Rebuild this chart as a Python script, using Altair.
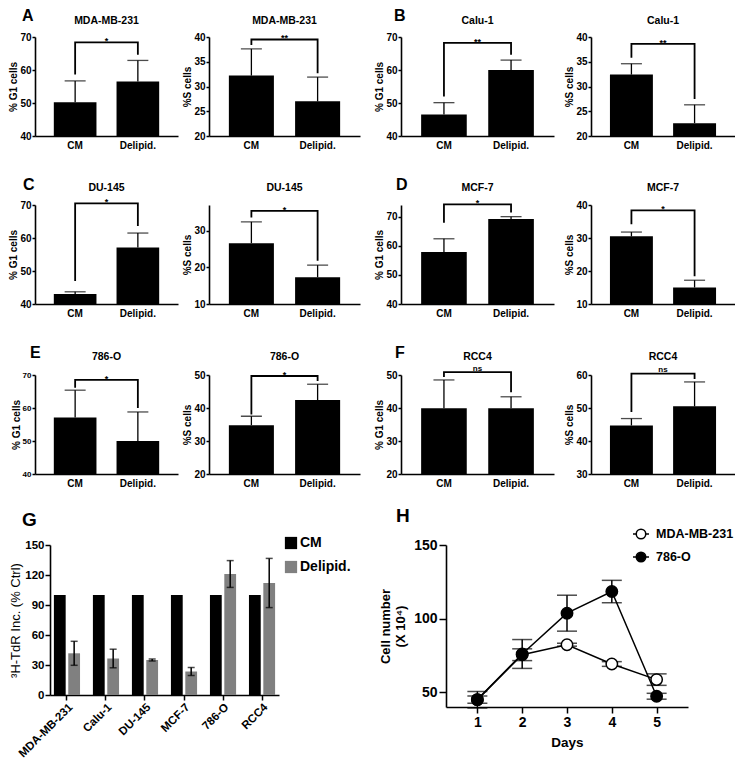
import altair as alt
import pandas as pd

FONT = "Liberation Sans"
GROUPS = ["CM", "Delipid."]

# ---------------- panels A-F (12 small bar charts) ----------------
cell_titles = ["MDA-MB-231", "MDA-MB-231", "Calu-1", "Calu-1", "DU-145", "DU-145",
               "MCF-7", "MCF-7", "786-O", "786-O", "RCC4", "RCC4"]
y_titles = ["% G1 cells", "%S cells"] * 6
y_domains = [[40, 70], [20, 40], [40, 70], [20, 40], [40, 70], [10, 37],
             [40, 74], [10, 40], [40, 70], [20, 50], [20, 50], [30, 60]]
y_ticks = [[40, 50, 60, 70], [20, 25, 30, 35, 40], [40, 50, 60, 70], [20, 25, 30, 35, 40],
           [40, 50, 60, 70], [10, 20, 30], [40, 50, 60, 70], [10, 20, 30, 40],
           [40, 50, 60, 70], [20, 30, 40, 50], [20, 30, 40, 50], [30, 40, 50, 60]]
cm_means = [50.2, 32.2, 46.5, 32.4, 43.0, 26.6, 57.9, 30.5, 57.1, 34.8, 39.9, 44.7]
cm_err = [6.5, 5.4, 3.6, 2.2, 0.7, 5.8, 4.5, 1.3, 8.3, 2.7, 8.6, 2.1]
dl_means = [56.5, 27.0, 60.0, 22.6, 57.1, 17.3, 69.2, 15.0, 50.0, 42.4, 39.9, 50.5]
dl_err = [6.4, 4.9, 3.0, 3.7, 4.4, 3.3, 0.8, 2.2, 8.8, 4.8, 3.5, 7.4]
bracket_left = [58.6, 38.4, 52.0, 35.8, 47.0, 33.6, 67.9, 34.2, 66.1, 38.0, 49.4, 48.8]
bracket_top = [68.4, 39.5, 68.2, 38.6, 70.5, 35.4, 74.2, 38.4, 68.5, 49.7, 50.9, 60.4]
bracket_right = [64.6, 32.7, 64.6, 27.5, 63.6, 21.8, 71.4, 18.4, 60.0, 48.2, 44.8, 58.8]
sig_labels = ["*", "**", "**", "**", "*", "*", "*", "*", "*", "*", "ns", "ns"]
panel_letters = ["A", None, "B", None, "C", None, "D", None, "E", None, "F", None]

# ---------------- panel G ----------------
g_cells = ["MDA-MB-231", "Calu-1", "DU-145", "MCF-7", "786-O", "RCC4"]
g_cm = [100, 100, 100, 100, 100, 100]
g_delipid = [41.7, 36.5, 35.0, 23.5, 121.0, 112.0]
g_delipid_err = [12.0, 9.3, 1.0, 4.0, 13.4, 24.6]
g_colors = ["#000000", "#808080"]

# ---------------- panel H ----------------
h_days = [1, 2, 3, 4, 5]
h_series = ["MDA-MB-231", "786-O"]
h_mda_mean = [45.0, 75.5, 82.3, 69.2, 58.6]
h_mda_err = [2.5, 4.0, 1.0, 1.6, 3.9]
h_786_mean = [45.0, 76.0, 103.7, 118.4, 47.3]
h_786_err = [5.6, 9.8, 12.2, 7.6, 2.0]

# layout helpers (pixel offsets of panel letters / titles relative to plot area)
COL_W = [143, 151, 153, 144]
SMALL_H = 99
LETTER_POS = {"A": (-13, -16), "B": (-7, -16), "C": (-12, -15), "D": (-5, -15),
              "E": (-5, -17), "F": (-6, -17)}
TITLE_Y = [-13, -14, -15]


def small_chart(i):
    w = COL_W[i % 4]
    row = i // 4
    lo = y_domains[i][0]
    label_size = 8 if i == 8 else 10
    bars_df = pd.DataFrame({"group": GROUPS,
                            "value": [cm_means[i], dl_means[i]],
                            "top": [cm_means[i] + cm_err[i], dl_means[i] + dl_err[i]]})
    x_enc = alt.X("group:N", sort=GROUPS,
                  scale=alt.Scale(domain=GROUPS, paddingInner=0.32, paddingOuter=0.3),
                  axis=alt.Axis(title=None, labelAngle=0, ticks=False, domainWidth=1.6,
                                labelFontSize=10, labelFontWeight="bold", labelPadding=4))
    y_scale = alt.Scale(domain=y_domains[i], nice=False, zero=False)
    y_axis = alt.Axis(values=y_ticks[i], title=y_titles[i], grid=False, tickSize=3,
                      tickWidth=1.5, domainWidth=1.6, labelFontSize=label_size,
                      labelFontWeight="bold", labelPadding=1, titleFontSize=10,
                      titleFontWeight="bold", titlePadding=1)

    def ye(field):
        return alt.Y(field, scale=y_scale, axis=y_axis)

    base = alt.Chart(bars_df)
    bars = base.mark_bar(color="black").encode(x=x_enc, y=ye("value:Q"), y2=alt.datum(lo))
    err = base.mark_rule(color="black", strokeWidth=1.3).encode(x=x_enc, y=ye("value:Q"), y2="top:Q")
    cap = base.mark_tick(color="black", thickness=1.3, size=21).encode(x=x_enc, y=ye("top:Q"))

    br_df = pd.DataFrame({"group": ["CM", "CM", "Delipid.", "Delipid."],
                          "value": [bracket_left[i], bracket_top[i], bracket_top[i], bracket_right[i]],
                          "step": [0, 1, 2, 3]})
    bracket = alt.Chart(br_df).mark_line(color="black", strokeWidth=1.8, strokeJoin="miter").encode(
        x=x_enc, y=ye("value:Q"), order="step:Q")

    is_ns = sig_labels[i] == "ns"
    sig_df = pd.DataFrame({"label": [sig_labels[i]], "value": [bracket_top[i]]})
    sig = alt.Chart(sig_df).mark_text(fontSize=(8 if is_ns else 9), fontWeight="bold",
                                      align="center", baseline="alphabetic",
                                      dy=(-1.5 if is_ns else 2)).encode(
        x=alt.value(w / 2), y=ye("value:Q"), text="label:N")

    ttl = alt.Chart(pd.DataFrame({"t": [cell_titles[i]]})).mark_text(
        fontSize=10.5, fontWeight="bold", align="center", baseline="alphabetic").encode(
        x=alt.value(w / 2), y=alt.value(TITLE_Y[row]), text="t:N")

    layers = [bars, err, cap, bracket, sig, ttl]
    if panel_letters[i]:
        lx, ly = LETTER_POS[panel_letters[i]]
        layers.append(alt.Chart(pd.DataFrame({"t": [panel_letters[i]]})).mark_text(
            fontSize=16, fontWeight="bold", align="left", baseline="alphabetic").encode(
            x=alt.value(lx), y=alt.value(ly), text="t:N"))
    return alt.layer(*layers).properties(width=w, height=SMALL_H)


charts = [small_chart(i) for i in range(12)]


def small_row(r):
    c = charts[4 * r:4 * r + 4]
    return alt.hconcat(
        alt.hconcat(c[0], c[1], spacing=4),
        alt.hconcat(c[2], c[3], spacing=10),
        spacing=14)


# ---------------- G chart ----------------
G_W, G_H = 229, 150
gdf = pd.DataFrame({"cell": g_cells * 2,
                    "cond": ["CM"] * 6 + ["Delipid."] * 6,
                    "value": g_cm + g_delipid})
gerr = pd.DataFrame({"cell": g_cells, "cond": ["Delipid."] * 6,
                     "lo": [m - e for m, e in zip(g_delipid, g_delipid_err)],
                     "hi": [m + e for m, e in zip(g_delipid, g_delipid_err)]})
gx = alt.X("cell:N", sort=g_cells,
           scale=alt.Scale(domain=g_cells, paddingInner=0.33, paddingOuter=0.1),
           axis=alt.Axis(title=None, labelAngle=-45, labelAlign="right", labelBaseline="top",
                         tickSize=5, tickWidth=1.5, domainWidth=1.6, labelFontSize=11.5,
                         labelFontWeight="bold", labelPadding=1))
gxo = alt.XOffset("cond:N", sort=GROUPS, scale=alt.Scale(domain=GROUPS, paddingInner=0.18))
g_scale = alt.Scale(domain=[0, 150], nice=False)
g_axis = alt.Axis(values=[0, 30, 60, 90, 120, 150], title="³H-TdR Inc. (% Ctrl)", grid=False,
                  tickSize=5, tickWidth=1.5, domainWidth=1.6, labelFontSize=11.5,
                  labelFontWeight="bold", labelPadding=1, titleFontSize=13,
                  titleFontWeight="normal", titlePadding=2)


def gy(field):
    return alt.Y(field, scale=g_scale, axis=g_axis)


g_bars = alt.Chart(gdf).mark_bar().encode(
    x=gx, xOffset=gxo, y=gy("value:Q"),
    color=alt.Color("cond:N", sort=GROUPS,
                    scale=alt.Scale(domain=GROUPS, range=g_colors), legend=None))
g_err = alt.Chart(gerr).mark_rule(color="black", strokeWidth=1.5).encode(
    x=gx, xOffset=gxo, y=gy("lo:Q"), y2="hi:Q")
g_cap_lo = alt.Chart(gerr).mark_tick(color="black", thickness=1.5, size=7).encode(
    x=gx, xOffset=gxo, y=gy("lo:Q"))
g_cap_hi = alt.Chart(gerr).mark_tick(color="black", thickness=1.5, size=7).encode(
    x=gx, xOffset=gxo, y=gy("hi:Q"))
g_layers = [g_bars, g_err, g_cap_lo, g_cap_hi]
# legend of G (drawn as annotation)
for cond, col, ly in zip(GROUPS, g_colors, [-2, 22]):
    one = alt.Chart(pd.DataFrame({"cond": [cond]}))
    g_layers.append(one.mark_square(size=150, color=col, opacity=1).encode(
        x=alt.value(241), y=alt.value(ly)))
    g_layers.append(one.mark_text(fontSize=14, fontWeight="bold", align="left", baseline="middle").encode(
        x=alt.value(250), y=alt.value(ly), text="cond:N"))
g_layers.append(alt.Chart(pd.DataFrame({"t": ["G"]})).mark_text(
    fontSize=19, fontWeight="bold", align="left", baseline="alphabetic").encode(
    x=alt.value(-28), y=alt.value(-19), text="t:N"))
g_chart = alt.layer(*g_layers).properties(width=G_W, height=G_H)

# ---------------- H chart ----------------
H_W, H_H = 242, 162
hdf = pd.DataFrame({
    "series": [h_series[0]] * 5 + [h_series[1]] * 5,
    "day": h_days * 2,
    "value": h_mda_mean + h_786_mean,
    "lo": [m - e for m, e in zip(h_mda_mean, h_mda_err)] + [m - e for m, e in zip(h_786_mean, h_786_err)],
    "hi": [m + e for m, e in zip(h_mda_mean, h_mda_err)] + [m + e for m, e in zip(h_786_mean, h_786_err)],
})
hx = alt.X("day:Q", scale=alt.Scale(domain=[0.3, 5.7], nice=False, zero=False),
           axis=alt.Axis(values=h_days, format="d", title="Days", grid=False, tickSize=6,
                         tickWidth=1.5, domainWidth=1.6, labelFontSize=14, labelFontWeight="bold",
                         labelPadding=2, titleFontSize=13.5, titleFontWeight="bold", titlePadding=6))
h_scale = alt.Scale(domain=[40, 150], nice=False, zero=False)
h_axis = alt.Axis(values=[50, 100, 150], title=["Cell number", "(X 10⁴)"], grid=False, tickSize=7,
                  tickWidth=1.5, domainWidth=1.6, labelFontSize=14, labelFontWeight="bold",
                  labelPadding=2, titleFontSize=13, titleFontWeight="bold", titlePadding=6)


def hy(field):
    return alt.Y(field, scale=h_scale, axis=h_axis)


h_layers = []
for s, fill in zip(h_series, ["white", "black"]):
    src = alt.Chart(hdf).transform_filter(alt.datum.series == s)
    h_layers.append(src.mark_rule(color="black", strokeWidth=1.5).encode(x=hx, y=hy("lo:Q"), y2="hi:Q"))
    h_layers.append(src.mark_tick(color="black", thickness=1.5, size=20, orient="horizontal").encode(
        x=hx, y=hy("lo:Q")))
    h_layers.append(src.mark_tick(color="black", thickness=1.5, size=20, orient="horizontal").encode(
        x=hx, y=hy("hi:Q")))
    h_layers.append(src.mark_line(color="black", strokeWidth=1.5).encode(x=hx, y=hy("value:Q")))
    h_layers.append(src.mark_point(shape="circle", filled=True, fill=fill, stroke="black",
                                   strokeWidth=1.5, size=130, opacity=1).encode(
        x=hx, y=hy("value:Q")))

# legend of H (drawn as annotation)
for s, fill, ly in zip(h_series, ["white", "black"], [-11, 12]):
    one = alt.Chart(pd.DataFrame({"series": [s]}))
    h_layers.append(one.mark_rule(color="black", strokeWidth=1.5).encode(
        x=alt.value(187), x2=alt.value(203), y=alt.value(ly)))
    h_layers.append(one.mark_point(shape="circle", filled=True, fill=fill, stroke="black",
                                   strokeWidth=1.5, size=90, opacity=1).encode(
        x=alt.value(195), y=alt.value(ly)))
    h_layers.append(one.mark_text(fontSize=12.5, fontWeight="bold", align="left", baseline="middle").encode(
        x=alt.value(210), y=alt.value(ly), text="series:N"))

h_layers.append(alt.Chart(pd.DataFrame({"t": ["H"]})).mark_text(
    fontSize=19, fontWeight="bold", align="left", baseline="alphabetic").encode(
    x=alt.value(-50), y=alt.value(-23), text="t:N"))
h_chart = alt.layer(*h_layers).properties(width=H_W, height=H_H)

spacer = alt.Chart(pd.DataFrame({"s": [0]})).mark_point(opacity=0, size=1).properties(width=1, height=1)
row4 = alt.hconcat(alt.hconcat(spacer, g_chart, spacing=-27), h_chart, spacing=28)

top3 = alt.vconcat(small_row(0), small_row(1), small_row(2), spacing=27)
chart = alt.vconcat(top3, row4, spacing=19).properties(
    padding=0
).configure_view(stroke=None).configure_axis(
    labelFont=FONT, titleFont=FONT, labelColor="black", titleColor="black",
    domainColor="black", tickColor="black"
).configure_text(font=FONT, color="black")

chart.save("out.html", embed_options={"renderer": "svg", "actions": False})
